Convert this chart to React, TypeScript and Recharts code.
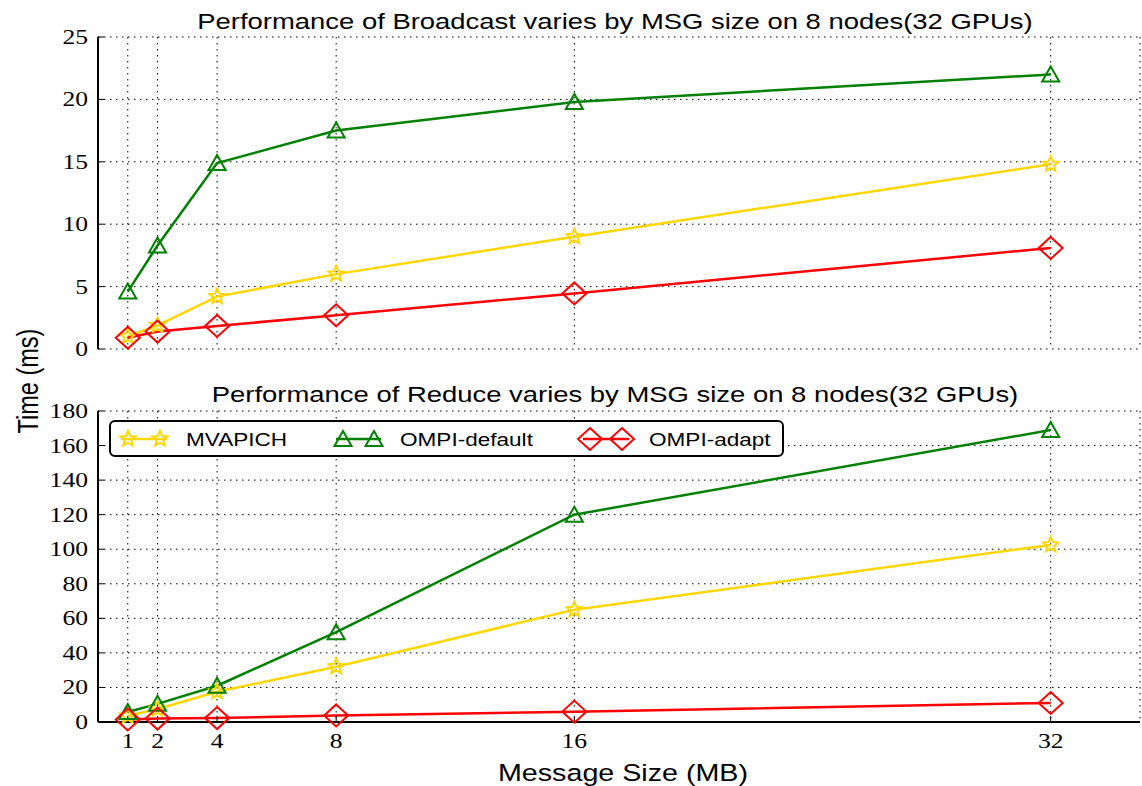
import React from 'react';
import { LineChart, Line, XAxis, YAxis, CartesianGrid } from 'recharts';

const sizes = [1, 2, 4, 8, 16, 32];
const seriesNames = ['MVAPICH', 'OMPI-default', 'OMPI-adapt'];

const bcastMvapich = [1.0, 1.9, 4.2, 6.0, 9.0, 14.8];
const bcastOmpiDefault = [4.6, 8.3, 14.9, 17.5, 19.8, 22.0];
const bcastOmpiAdapt = [0.9, 1.4, 1.85, 2.7, 4.45, 8.1];

const reduceMvapich = [3.5, 7.5, 17.5, 32, 65, 102.5];
const reduceOmpiDefault = [5.8, 10.5, 21, 52, 120, 169];
const reduceOmpiAdapt = [1.5, 2, 2.3, 3.8, 6, 11];

const bcastTicks = [0, 5, 10, 15, 20, 25];
const reduceTicks = [0, 20, 40, 60, 80, 100, 120, 140, 160, 180];

const titles = [
  'Performance of Broadcast varies by MSG size on 8 nodes(32 GPUs)',
  'Performance of Reduce varies by MSG size on 8 nodes(32 GPUs)',
];

const COLORS = { mvapich: '#FFD700', def: '#008000', adapt: '#FF0000' };
const SANS = '"Liberation Sans", Arial, sans-serif';
const SERIF = '"Liberation Serif", "Times New Roman", serif';
// the original figure is stretched sideways, so glyphs are wider than tall
const SX = 1.22;

function build(a: number[], b: number[], c: number[]) {
  return sizes.map((s, i) => ({ size: s, mvapich: a[i], def: b[i], adapt: c[i] }));
}

const bcastData = build(bcastMvapich, bcastOmpiDefault, bcastOmpiAdapt);
const reduceData = build(reduceMvapich, reduceOmpiDefault, reduceOmpiAdapt);

function starPoints(cx: number, cy: number, R: number, r: number) {
  const pts: string[] = [];
  for (let i = 0; i < 10; i++) {
    const rad = i % 2 === 0 ? R : r;
    const ang = -Math.PI / 2 + (i * Math.PI) / 5;
    pts.push(`${cx + rad * Math.cos(ang)},${cy + rad * Math.sin(ang)}`);
  }
  return pts.join(' ');
}

function Star({ cx, cy }: { cx: number; cy: number }) {
  return <polygon points={starPoints(cx, cy, 8, 3.6)} fill="none" stroke={COLORS.mvapich} strokeWidth={2} />;
}
function Tri({ cx, cy }: { cx: number; cy: number }) {
  return (
    <polygon
      points={`${cx},${cy - 8} ${cx - 8.5},${cy + 7} ${cx + 8.5},${cy + 7}`}
      fill="none"
      stroke={COLORS.def}
      strokeWidth={2}
    />
  );
}
function Diamond({ cx, cy }: { cx: number; cy: number }) {
  return (
    <polygon
      points={`${cx},${cy - 11} ${cx + 12},${cy} ${cx},${cy + 11} ${cx - 12},${cy}`}
      fill="none"
      stroke={COLORS.adapt}
      strokeWidth={2}
    />
  );
}

const markers: Record<string, (p: { cx: number; cy: number }) => React.ReactElement> = {
  mvapich: Star,
  def: Tri,
  adapt: Diamond,
};

function dotFor(key: string) {
  const M = markers[key];
  return (props: any) => {
    if (props.cx == null || props.cy == null) return <g key={`${key}-e-${props.index}`} />;
    return (
      <g key={`${key}-${props.index}`}>
        <M cx={props.cx} cy={props.cy} />
      </g>
    );
  };
}

function StretchText({ x, y, anchor, size, family, children }: any) {
  return (
    <g transform={`translate(${x},${y}) scale(${SX},1)`}>
      <text x={0} y={0} textAnchor={anchor} fontFamily={family} fontSize={size} fill="#000">
        {children}
      </text>
    </g>
  );
}

function XTick({ x, y, payload, show }: any) {
  if (!show) return <g />;
  return (
    <StretchText x={x} y={y + 26} anchor="middle" size={21} family={SERIF}>
      {payload.value}
    </StretchText>
  );
}

function YTick({ x, y, payload }: any) {
  return (
    <StretchText x={x} y={y + 7} anchor="end" size={21} family={SERIF}>
      {payload.value}
    </StretchText>
  );
}

const axisLine = { stroke: '#000', strokeWidth: 2 };
const tickLine = { stroke: '#000', strokeWidth: 1 };

function Panel({
  data,
  yMax,
  yTicks,
  height,
  top,
  marginTop,
  marginBottom,
  showX,
}: {
  data: any[];
  yMax: number;
  yTicks: number[];
  height: number;
  top: number;
  marginTop: number;
  marginBottom: number;
  showX: boolean;
}) {
  return (
    <div style={{ position: 'absolute', left: 0, top }}>
      <LineChart width={1142} height={height} data={data} margin={{ top: marginTop, right: 2, left: 0, bottom: marginBottom }}>
        <CartesianGrid stroke="#000" strokeDasharray="1.5 4.5" strokeWidth={1} />
        <XAxis
          dataKey="size"
          type="number"
          domain={[0, 35]}
          ticks={sizes}
          tick={<XTick show={showX} />}
          tickSize={-6}
          tickMargin={6}
          axisLine={axisLine}
          tickLine={tickLine}
          height={showX ? 64 : 0}
          interval={0}
        />
        <XAxis
          xAxisId="top"
          orientation="top"
          type="number"
          domain={[0, 35]}
          ticks={sizes}
          tick={() => <g />}
          tickSize={-6}
          axisLine={axisLine}
          tickLine={tickLine}
          height={0}
        />
        <YAxis
          type="number"
          domain={[0, yMax]}
          ticks={yTicks}
          tick={<YTick />}
          tickSize={-6}
          tickMargin={16}
          axisLine={axisLine}
          tickLine={tickLine}
          width={98}
          interval={0}
        />
        <YAxis
          yAxisId="right"
          orientation="right"
          type="number"
          domain={[0, yMax]}
          ticks={yTicks}
          tick={() => <g />}
          tickSize={-6}
          axisLine={axisLine}
          tickLine={tickLine}
          width={0}
        />
        <Line dataKey="mvapich" stroke={COLORS.mvapich} strokeWidth={2.5} dot={dotFor('mvapich')} isAnimationActive={false} />
        <Line dataKey="def" stroke={COLORS.def} strokeWidth={2.5} dot={dotFor('def')} isAnimationActive={false} />
        <Line dataKey="adapt" stroke={COLORS.adapt} strokeWidth={2.5} dot={dotFor('adapt')} isAnimationActive={false} />
      </LineChart>
    </div>
  );
}

function LegendBox() {
  const items = [
    { key: 'mvapich', color: COLORS.mvapich, x1: 128, x2: 160, tx: 186 },
    { key: 'def', color: COLORS.def, x1: 343, x2: 374, tx: 400 },
    { key: 'adapt', color: COLORS.adapt, x1: 590, x2: 622, tx: 649 },
  ];
  const cy = 439;
  return (
    <svg width={1142} height={786} style={{ position: 'absolute', left: 0, top: 0, pointerEvents: 'none' }}>
      <rect x={110} y={421} width={673} height={35} rx={5} fill="#fff" stroke="#000" strokeWidth={2} />
      {items.map((it, i) => {
        const M = markers[it.key];
        return (
          <g key={it.key}>
            <line x1={it.x1 - 7} x2={it.x2 + 7} y1={cy} y2={cy} stroke={it.color} strokeWidth={2.5} />
            <M cx={it.x1} cy={cy} />
            <M cx={it.x2} cy={cy} />
            <StretchText x={it.tx} y={cy + 7} anchor="start" size={18.5} family={SANS}>
              {seriesNames[i]}
            </StretchText>
          </g>
        );
      })}
    </svg>
  );
}

export default function App() {
  return (
    <div style={{ position: 'absolute', left: 0, top: 0, width: 1142, height: 786, background: '#fff', overflow: 'hidden' }}>
      <Panel data={bcastData} yMax={25} yTicks={bcastTicks} height={372} top={0} marginTop={37} marginBottom={23} showX={false} />
      <Panel data={reduceData} yMax={180} yTicks={reduceTicks} height={406} top={380} marginTop={31} marginBottom={0} showX={true} />
      <LegendBox />
      <svg width={1142} height={786} style={{ position: 'absolute', left: 0, top: 0, pointerEvents: 'none' }}>
        <StretchText x={615} y={29} anchor="middle" size={22.5} family={SANS}>
          {titles[0]}
        </StretchText>
        <StretchText x={615} y={402} anchor="middle" size={22.5} family={SANS}>
          {titles[1]}
        </StretchText>
        <StretchText x={623} y={781} anchor="middle" size={23.5} family={SANS}>
          Message Size (MB)
        </StretchText>
        <g transform={`translate(38,381) scale(${SX},1) rotate(-90)`}>
          <text x={0} y={0} textAnchor="middle" fontFamily={SANS} fontSize={23.5} fill="#000">
            Time (ms)
          </text>
        </g>
      </svg>
    </div>
  );
}
